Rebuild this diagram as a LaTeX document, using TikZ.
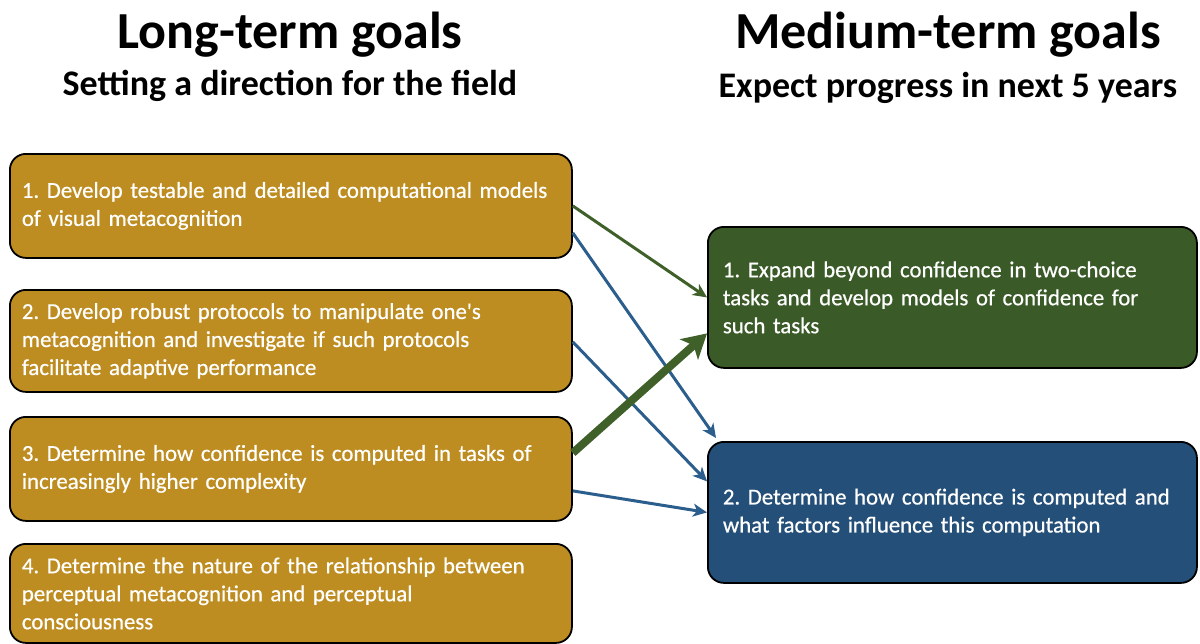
\documentclass[tikz,border=0pt]{standalone}
\usepackage{fontspec}
\setmainfont{Carlito}
\newfontfamily\boxfont[FakeBold=0.6]{Carlito}
\usetikzlibrary{arrows.meta,calc}
\definecolor{gold}{HTML}{BE8D21}
\definecolor{dgreen}{HTML}{3A5A27}
\definecolor{dblue}{HTML}{244F78}
\definecolor{agreen}{HTML}{3F6129}
\definecolor{ablue}{HTML}{2B5E8C}
\tikzset{
  box/.style={draw=black, line width=1.8pt, rounded corners=16pt, text=white,
    align=left, font=\boxfont\fontsize{22.8}{28}\selectfont, anchor=north west},
  lbox/.style={box, fill=gold, text width=538pt, inner xsep=12pt, inner ysep=0pt},
  rbox/.style={box, text width=459pt, inner xsep=15pt, inner ysep=0pt, minimum height=141pt},
  title/.style={font=\fontsize{52}{56}\selectfont\bfseries},
  subtitle/.style={font=\fontsize{36}{40}\selectfont\bfseries},
  thinarrow/.style={line width=3pt, -{Stealth[length=14pt,width=13pt,inset=4pt]}},
  thickarrow/.style={line width=8pt, -{Stealth[length=24pt,width=27pt,inset=6pt]}}
}
\begin{document}
\frenchspacing
\begin{tikzpicture}[x=1pt,y=1pt]
\useasboundingbox (0,0) rectangle (1200,-643);
\node[title] (t1) at (290,-35) {Long-term goals};
\node[subtitle] (s1) at (290,-86) {Setting a direction for the field};
\node[title] (t2) at (948,-35) {Medium-term goals};
\node[subtitle] (s2) at (948,-88) {Expect progress in next 5 years};

\node[lbox, minimum height=104pt] (b1) at (9,-153) {1. Develop testable and detailed computational models\\of visual metacognition};
\node[lbox, minimum height=102pt] (b2) at (9,-289) {2. Develop robust protocols to manipulate one\textquotesingle s\\metacognition and investigate if such protocols\\facilitate adaptive performance};
\node[lbox, minimum height=104pt] (b3) at (9,-416) {3. Determine how confidence is computed in tasks of\\increasingly higher complexity};
\node[lbox, minimum height=99pt] (b4) at (9,-543) {4. Determine the nature of the relationship between\\perceptual metacognition and perceptual\\consciousness};

\node[rbox, fill=dgreen] (g) at (707,-226) {1. Expand beyond confidence in two-choice\\tasks and develop models of confidence for\\such tasks};
\node[rbox, fill=dblue] (bl) at (707,-441) {2. Determine how confidence is computed and\\what factors influence this computation};

\draw[thinarrow, agreen] (b1.east) -- (g.west);
\draw[thinarrow, ablue] ([yshift=-27pt]b1.east) -- ([xshift=9pt,yshift=3pt]bl.north west);
\draw[thinarrow, ablue] ([yshift=-1pt]b2.east) -- ([yshift=31pt]bl.west);
\draw[thickarrow, agreen] ([yshift=16pt]b3.east) -- ([yshift=-36pt]g.west);
\draw[thinarrow, ablue] ([yshift=-22pt]b3.east) -- (bl.west);
\end{tikzpicture}
\end{document}
